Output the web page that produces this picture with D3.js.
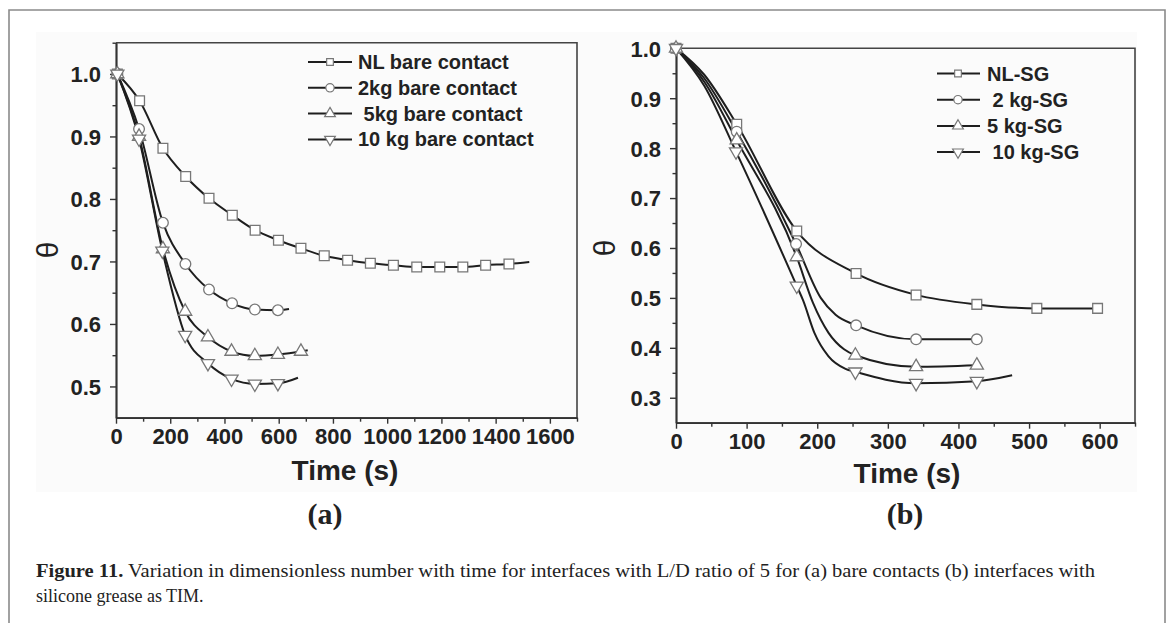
<!DOCTYPE html>
<html>
<head>
<meta charset="utf-8">
<script src="https://cdn.jsdelivr.net/npm/d3@7"></script>
<style>
  body { margin: 0; background: #fff; }
  svg text { font-family: "Liberation Sans", Arial, sans-serif; font-weight: bold; fill: #222; }
  svg text.serif { font-family: "Liberation Serif", "Times New Roman", serif; }
  svg text.plain { font-weight: normal; }
  .axis path, .axis line { stroke: #333; }
</style>
</head>
<body>
<svg width="1171" height="623"></svg>
<script>
//* (a) bare contacts: marker readings (time s, theta)
const bareNL_T = [5, 87, 173, 257, 343, 429, 513, 599, 682, 768, 854, 938, 1023, 1109, 1194, 1279, 1363, 1449];
const bareNL_V = [1.0, 0.957, 0.881, 0.836, 0.801, 0.774, 0.750, 0.734, 0.721, 0.709, 0.702, 0.697, 0.694, 0.691, 0.691, 0.691, 0.694, 0.696];
const bare2_T = [5, 85, 173, 256, 343, 428, 512, 597];
const bare2_V = [1.0, 0.912, 0.762, 0.696, 0.655, 0.633, 0.623, 0.622];
const bare5_T = [5, 85, 173, 255, 339, 426, 512, 597, 682];
const bare5_V = [1.0, 0.900, 0.720, 0.620, 0.579, 0.556, 0.549, 0.551, 0.556];
const bare10_T = [5, 85, 171, 255, 339, 426, 512, 597];
const bare10_V = [1.0, 0.896, 0.717, 0.582, 0.537, 0.512, 0.504, 0.505];
// curve points read between / after the markers
const bareNL_curve = [[1524, 0.699]];
const bare2_curve = [[638, 0.624]];
const bare5_curve = [[707, 0.558]];
const bare10_curve = [[671, 0.514]];

//* (b) silicone grease
const sgNL_T = [0, 86, 171, 255, 340, 426, 511, 597];
const sgNL_V = [1.0, 0.848, 0.634, 0.549, 0.506, 0.487, 0.479, 0.479];
const sg2_T = [0, 86, 170, 255, 340, 426];
const sg2_V = [1.0, 0.833, 0.608, 0.445, 0.417, 0.417];
const sg5_T = [0, 86, 171, 254, 340, 426];
const sg5_V = [1.0, 0.816, 0.582, 0.385, 0.362, 0.365];
const sg10_T = [0, 85, 171, 254, 340, 426];
const sg10_V = [1.0, 0.793, 0.524, 0.352, 0.329, 0.333];
const sgNL_curve = [[40, 0.947]];
const sg2_curve = [[40, 0.940], [205, 0.50], [226, 0.466]];
const sg5_curve = [[40, 0.933], [194, 0.49], [216, 0.43], [238, 0.397]];
const sg10_curve = [[40, 0.925], [180, 0.495], [196, 0.43], [216, 0.383], [240, 0.358], [476, 0.345]];

const bareNames = ['NL bare contact', '2kg bare contact', ' 5kg bare contact', '10 kg bare contact'];
const sgNames = ['NL-SG', ' 2 kg-SG', '5 kg-SG', ' 10 kg-SG'];
const symbolKinds = ['square', 'circle', 'up', 'down'];

const xTicksA = d3.range(0, 1601, 200);
const xTicksB = d3.range(0, 601, 100);
const yTicksA = [0.5, 0.6, 0.7, 0.8, 0.9, 1.0];
const yTicksB = [0.3, 0.4, 0.5, 0.6, 0.7, 0.8, 0.9, 1.0];

const captionBold = 'Figure 11.';
const captionLine1 = ' Variation in dimensionless number with time for interfaces with L/D ratio of 5 for (a) bare contacts (b) interfaces with';
const captionLine2 = 'silicone grease as TIM.';

const zip = (ts, vs) => ts.map((t, i) => [t, vs[i]]);
const series = (ts, vs, extra, name, kind) => ({
  name, kind,
  marks: zip(ts, vs),
  curve: zip(ts, vs).concat(extra).sort((a, b) => a[0] - b[0]),
});

const panels = [
  {
    box: [116, 577, 42.7, 417.7], xDom: [0, 1700], yDom: [0.45, 1.05],
    xTicks: xTicksA, xMinor: d3.range(100, 1701, 200),
    yTicks: yTicksA, yMinor: d3.range(0.55, 1.06, 0.1),
    data: [
      series(bareNL_T, bareNL_V, bareNL_curve, bareNames[0], symbolKinds[0]),
      series(bare2_T, bare2_V, bare2_curve, bareNames[1], symbolKinds[1]),
      series(bare5_T, bare5_V, bare5_curve, bareNames[2], symbolKinds[2]),
      series(bare10_T, bare10_V, bare10_curve, bareNames[3], symbolKinds[3]),
    ],
    legend: { x0: 308, x1: 352, xs: 330, xt: 358, y0: 62, dy: 25.8 },
    theta: [47, 250], timeX: 345, timeY: 480, tag: '(a)', tagX: 325,
  },
  {
    box: [676, 1135, 48.3, 422.7], xDom: [0, 650], yDom: [0.25, 1.0],
    xTicks: xTicksB, xMinor: d3.range(50, 651, 100),
    yTicks: yTicksB, yMinor: d3.range(0.35, 0.96, 0.1),
    data: [
      series(sgNL_T, sgNL_V, sgNL_curve, sgNames[0], symbolKinds[0]),
      series(sg2_T, sg2_V, sg2_curve, sgNames[1], symbolKinds[1]),
      series(sg5_T, sg5_V, sg5_curve, sgNames[2], symbolKinds[2]),
      series(sg10_T, sg10_V, sg10_curve, sgNames[3], symbolKinds[3]),
    ],
    legend: { x0: 937, x1: 980, xs: 958, xt: 987, y0: 73.5, dy: 26.2 },
    theta: [604, 248], timeX: 907, timeY: 483, tag: '(b)', tagX: 905,
  },
];

const svg = d3.select('svg');

// faint backdrop of the pasted figure + outer frame
svg.append('rect').attr('x', 36).attr('y', 32).attr('width', 1101).attr('height', 460).attr('fill', '#fbfbfb');
svg.append('path').attr('d', 'M9,640V10H1165V640').attr('fill', 'none').attr('stroke', '#8a8a8a').attr('stroke-width', 1.6);

const symbolPath = (kind, size) => {
  const type = kind === 'square' ? d3.symbolSquare : kind === 'circle' ? d3.symbolCircle : d3.symbolTriangle;
  return d3.symbol().type(type).size(size)();
};
const rot = (kind) => (kind === 'down' ? ' rotate(180)' : '');
const markSize = { square: 95, circle: 90, up: 75, down: 75 };
const legSize = { square: 45, circle: 55, up: 50, down: 50 };

panels.forEach((p) => {
  const [L, R, T, B] = p.box;
  const x = d3.scaleLinear().domain(p.xDom).range([L, R]);
  const y = d3.scaleLinear().domain(p.yDom).range([B, T]);
  const g = svg.append('g');

  // box top / right
  g.append('path').attr('d', `M${L},${T}H${R}V${B}`).attr('fill', 'none').attr('stroke', '#444').attr('stroke-width', 1.6);

  // axes
  const ax = g.append('g').attr('class', 'axis').attr('transform', `translate(0,${B})`)
    .call(d3.axisBottom(x).tickValues(p.xTicks).tickSize(6).tickSizeOuter(0).tickPadding(5).tickFormat(d3.format('d')));
  g.append('g').attr('class', 'axis').attr('transform', `translate(0,${B})`)
    .call(d3.axisBottom(x).tickValues(p.xMinor).tickSize(4).tickSizeOuter(0).tickFormat(''));
  const ay = g.append('g').attr('class', 'axis').attr('transform', `translate(${L},0)`)
    .call(d3.axisLeft(y).tickValues(p.yTicks).tickSize(6).tickSizeOuter(0).tickPadding(9).tickFormat(d3.format('.1f')));
  g.append('g').attr('class', 'axis').attr('transform', `translate(${L},0)`)
    .call(d3.axisLeft(y).tickValues(p.yMinor).tickSize(3.5).tickSizeOuter(0).tickFormat(''));
  g.selectAll('.axis path.domain').attr('stroke-width', 1.7);
  g.selectAll('.axis .tick line').attr('stroke-width', 1.4);
  ax.selectAll('text').attr('font-size', 22).attr('fill', '#222').attr('font-family', null);
  ay.selectAll('text').attr('font-size', 22).attr('fill', '#222').attr('font-family', null).attr('dy', '0.36em');

  // lines
  const line = d3.line().x((d) => x(d[0])).y((d) => y(d[1])).curve(d3.curveMonotoneX);
  g.selectAll('.curve').data(p.data).enter().append('path')
    .attr('d', (d) => line(d.curve))
    .attr('fill', 'none').attr('stroke', '#1e1e1e').attr('stroke-width', 2);

  // markers
  p.data.forEach((s) => {
    g.selectAll(null).data(s.marks).enter().append('path')
      .attr('d', symbolPath(s.kind, markSize[s.kind]))
      .attr('transform', (d) => `translate(${x(d[0])},${y(d[1])})${rot(s.kind)}`)
      .attr('fill', '#fff').attr('stroke', '#777').attr('stroke-width', 1.3);
  });

  // legend
  const lg = p.legend;
  const rows = g.selectAll('.leg').data(p.data).enter().append('g')
    .attr('transform', (d, i) => `translate(0,${lg.y0 + i * lg.dy})`);
  rows.append('line').attr('x1', lg.x0).attr('x2', lg.x1).attr('stroke', '#1e1e1e').attr('stroke-width', 2);
  rows.append('path').attr('d', (d) => symbolPath(d.kind, legSize[d.kind]))
    .attr('transform', (d) => `translate(${lg.xs},0)${rot(d.kind)}`)
    .attr('fill', '#fff').attr('stroke', '#777').attr('stroke-width', 1.2);
  rows.append('text').attr('x', lg.xt).attr('y', 7).attr('font-size', 20)
    .style('white-space', 'pre').text((d) => d.name);

  // axis titles and panel tag
  g.append('text').attr('class', 'plain').attr('transform', `translate(${p.theta[0]},${p.theta[1]}) rotate(-90)`)
    .attr('text-anchor', 'middle').attr('dy', '0.35em').attr('font-size', 30).text('θ');
  g.append('text').attr('x', p.timeX).attr('y', p.timeY).attr('text-anchor', 'middle').attr('font-size', 28).text('Time (s)');
  g.append('text').attr('class', 'serif').attr('x', p.tagX).attr('y', 524).attr('text-anchor', 'middle').attr('font-size', 30).text(p.tag);
});

// caption
const cap = svg.append('text').attr('class', 'serif plain').attr('x', 36).attr('y', 577).attr('font-size', 18)
  .style('white-space', 'pre').attr('textLength', 1059).attr('lengthAdjust', 'spacingAndGlyphs');
cap.append('tspan').style('font-weight', 'bold').text(captionBold);
cap.append('tspan').style('font-weight', 'normal').text(captionLine1);
svg.append('text').attr('class', 'serif plain').attr('x', 36).attr('y', 602).attr('font-size', 18)
  .text(captionLine2);
</script>
</body>
</html>
